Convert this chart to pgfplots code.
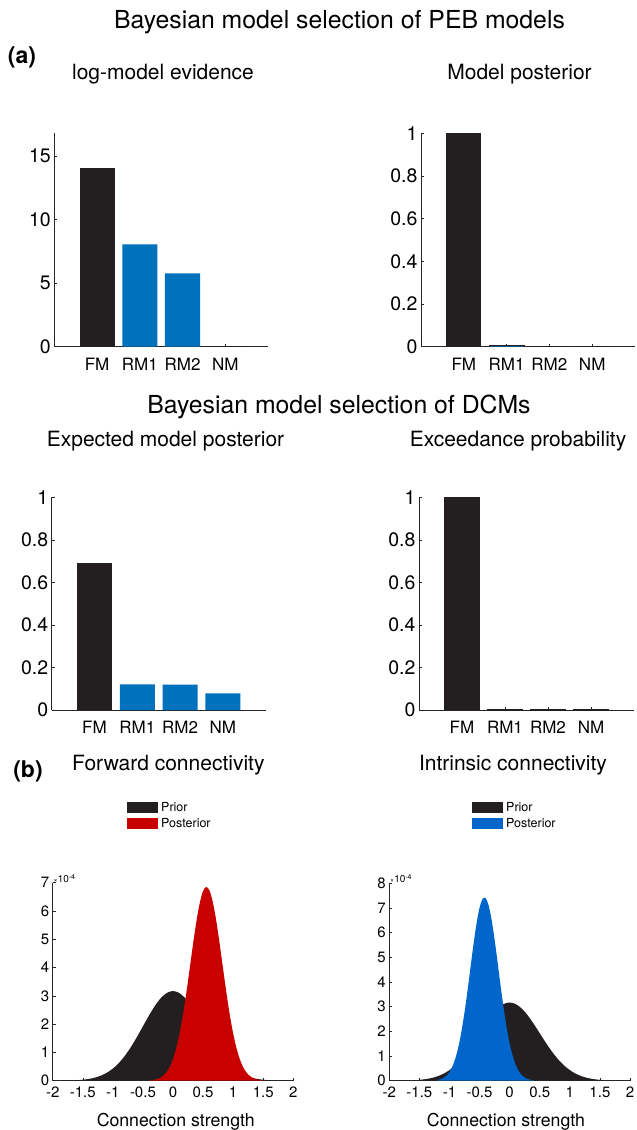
\documentclass[border=0pt]{standalone}
\usepackage{fontspec}
\setmainfont{TeX Gyre Heros}
\usepackage{pgfplots}
\pgfplotsset{compat=1.18}

\definecolor{kdark}{HTML}{231F20}
\definecolor{mblue}{HTML}{0072BD}
\definecolor{pred}{HTML}{C80000}
\definecolor{pblue}{HTML}{0066CC}

\pgfplotsset{
  baseax/.style={scale only axis, anchor=south west,
    axis x line*=bottom, axis y line*=left, tick align=inside,
    axis line style={black!85, line width=0.5pt},
    major tick style={black!85, line width=0.5pt}, major tick length=3pt,
    title style={anchor=base, font=\fontsize{21}{25}\selectfont, inner sep=0pt}},
  barax/.style={baseax, xmin=0, xmax=5, ymin=0,
    xtick={1,2,3,4}, xticklabels={FM,RM1,RM2,NM},
    yticklabel style={font=\fontsize{19.5}{22}\selectfont},
    xticklabel style={font=\fontsize{17}{20}\selectfont, yshift=-7.5pt}},
  denax/.style={baseax, xmin=-2, xmax=2, ymin=0,
    xtick={-2,-1.5,-1,-0.5,0,0.5,1,1.5,2},
    xticklabels={-2,-1.5,-1,-0.5,0,0.5,1,1.5,2},
    tick label style={font=\fontsize{15}{17}\selectfont},
    xticklabel style={yshift=-2.5pt},
    xlabel={Connection strength},
    xlabel style={anchor=base, font=\fontsize{17.7}{20}\selectfont, inner sep=0pt},
    legend cell align=left,
    legend image code/.code={\fill[##1] (0pt,-5.5pt) rectangle (31pt,5.5pt);}},
  legst/.style={legend style={at={(axis description cs:#1)}, anchor=north west,
    draw=none, fill=none, inner sep=0pt, row sep=5pt,
    font=\fontsize{12.5}{14}\selectfont, nodes={inner sep=0pt, anchor=west},
    /tikz/every odd column/.append style={column sep=3.3pt}}},
  barK/.style={ybar, bar width=0.82, bar shift=0pt, fill=kdark, draw=none},
  barB/.style={ybar, bar width=0.82, bar shift=0pt, fill=mblue, draw=none},
  barT/.style={ybar, bar width=0.82, bar shift=0pt, fill=mblue, draw=kdark, line width=0.4pt}
}

\pgfplotstableread{
x y
-2.0 0.001
-1.9 0.002
-1.8 0.005
-1.7 0.010
-1.6 0.019
-1.5 0.035
-1.4 0.063
-1.3 0.108
-1.2 0.178
-1.1 0.282
-1.0 0.429
-0.9 0.627
-0.8 0.881
-0.7 1.190
-0.6 1.543
-0.5 1.923
-0.4 2.302
-0.3 2.648
-0.2 2.926
-0.1 3.107
0.0 3.170
0.1 3.107
0.2 2.926
0.3 2.648
0.4 2.302
0.5 1.923
0.6 1.543
0.7 1.190
0.8 0.881
0.9 0.627
1.0 0.429
1.1 0.282
1.2 0.178
1.3 0.108
1.4 0.063
1.5 0.035
1.6 0.019
1.7 0.010
1.8 0.005
1.9 0.002
2.0 0.001
}\prior

\pgfplotstableread{
x y
-0.40 0.010
-0.35 0.020
-0.30 0.038
-0.25 0.068
-0.20 0.119
-0.15 0.199
-0.10 0.323
-0.05 0.506
0.00 0.765
0.05 1.115
0.10 1.570
0.15 2.132
0.20 2.793
0.25 3.533
0.30 4.312
0.35 5.079
0.40 5.773
0.45 6.333
0.50 6.704
0.55 6.849
0.60 6.752
0.65 6.424
0.70 5.898
0.75 5.226
0.80 4.468
0.85 3.687
0.90 2.936
0.95 2.256
1.00 1.673
1.05 1.198
1.10 0.827
1.15 0.551
1.20 0.355
1.25 0.220
1.30 0.132
1.35 0.076
1.40 0.042
1.45 0.023
1.50 0.012
}\postfwd

\pgfplotstableread{
x y
-1.20 0.030
-1.15 0.060
-1.10 0.113
-1.05 0.204
-1.00 0.353
-0.95 0.584
-0.90 0.923
-0.85 1.393
-0.80 2.010
-0.75 2.772
-0.70 3.653
-0.65 4.602
-0.60 5.541
-0.55 6.376
-0.50 7.012
-0.45 7.370
-0.40 7.403
-0.35 7.108
-0.30 6.522
-0.25 5.719
-0.20 4.794
-0.15 3.841
-0.10 2.940
-0.05 2.151
0.00 1.505
0.05 1.005
0.10 0.643
0.15 0.392
0.20 0.229
0.25 0.128
0.30 0.068
0.35 0.035
0.40 0.017
}\postint

\begin{document}
\begin{tikzpicture}
\useasboundingbox (0,0) rectangle (637pt,-1130pt);

\node[anchor=base, inner sep=0pt, font=\fontsize{24.8}{28}\selectfont] at (339.5pt,-28pt) {Bayesian model selection of PEB models};
\node[anchor=base, inner sep=0pt, font=\bfseries\fontsize{23}{27}\selectfont] at (22pt,-63pt) {(a)};
\node[anchor=base, inner sep=0pt, font=\fontsize{24.8}{28}\selectfont] at (339pt,-413pt) {Bayesian model selection of DCMs};
\node[anchor=base, inner sep=0pt, font=\bfseries\fontsize{23}{27}\selectfont] at (28pt,-777pt) {(b)};

% Panel 1
\begin{axis}[barax, at={(54.3pt,-346.7pt)}, width=213.7pt, height=213.4pt,
  ymax=16.8, ytick={0,5,10,15}, yticklabels={0,5,10,15},
  title={log-model evidence}, title style={at={(axis description cs:0.5087,1.2263)}}]
\addplot[barK] coordinates {(1,14.05)};
\addplot[barB] coordinates {(2,8.05) (3,5.78)};
\addplot[barT] coordinates {(4,0.06)};
\end{axis}

% Panel 2
\begin{axis}[barax, at={(421pt,-346.7pt)}, width=214pt, height=213.4pt,
  ymax=1, ytick={0,0.2,0.4,0.6,0.8,1}, yticklabels={0,0.2,0.4,0.6,0.8,1},
  title={Model posterior}, title style={at={(axis description cs:0.4603,1.2263)}}]
\addplot[barK] coordinates {(1,1.0)};
\addplot[barT] coordinates {(2,0.005) (3,0.002) (4,0.002)};
\end{axis}

% Panel 3
\begin{axis}[barax, at={(51.7pt,-710pt)}, width=214pt, height=212.7pt,
  ymax=1, ytick={0,0.2,0.4,0.6,0.8,1}, yticklabels={0,0.2,0.4,0.6,0.8,1},
  title={Expected model posterior}, title style={at={(axis description cs:0.5318,1.2130)}}]
\addplot[barK] coordinates {(1,0.690)};
\addplot[barB] coordinates {(2,0.121) (3,0.119) (4,0.0785)};
\end{axis}

% Panel 4
\begin{axis}[barax, at={(419pt,-710pt)}, width=215pt, height=212.7pt,
  ymax=1, ytick={0,0.2,0.4,0.6,0.8,1}, yticklabels={0,0.2,0.4,0.6,0.8,1},
  title={Exceedance probability}, title style={at={(axis description cs:0.4605,1.2130)}}]
\addplot[barK] coordinates {(1,1.0)};
\addplot[barT] coordinates {(2,0.002) (3,0.002) (4,0.002)};
\end{axis}

% Panel 5
\begin{axis}[denax, at={(52.7pt,-1080.7pt)}, width=240.6pt, height=198pt,
  ymax=7, ytick={0,1,2,3,4,5,6,7}, yticklabels={0,1,2,3,4,5,6,7},
  xlabel style={at={(axis description cs:0.5116,-0.2298)}},
  title={Forward connectivity}, title style={at={(axis description cs:0.4805,1.5389)}},
  legst={0.3076,1.4076}]
\addplot[fill=kdark, draw=none, smooth] table {\prior} \closedcycle;
\addlegendentry{Prior}
\addplot[fill=pred, draw=none, smooth] table {\postfwd} \closedcycle;
\addlegendentry{Posterior}
\end{axis}
\node[anchor=south west, inner sep=0pt, font=\fontsize{10}{11}\selectfont] at (53.5pt,-882.5pt) {{\fontsize{7}{8}\selectfont ×}10\raisebox{0.55ex}{\fontsize{7}{8}\selectfont -4}};

% Panel 6
\begin{axis}[denax, at={(389.3pt,-1080.7pt)}, width=240.7pt, height=197.4pt,
  ymax=8, ytick={0,1,2,3,4,5,6,7,8}, yticklabels={0,1,2,3,4,5,6,7,8},
  xlabel style={at={(axis description cs:0.4848,-0.2305)}},
  title={Intrinsic connectivity}, title style={at={(axis description cs:0.5139,1.5435)}},
  legst={0.3423,1.4119}]
\addplot[fill=kdark, draw=none, smooth] table {\prior} \closedcycle;
\addlegendentry{Prior}
\addplot[fill=pblue, draw=none, smooth] table {\postint} \closedcycle;
\addlegendentry{Posterior}
\end{axis}
\node[anchor=south west, inner sep=0pt, font=\fontsize{10}{11}\selectfont] at (390pt,-883pt) {{\fontsize{7}{8}\selectfont ×}10\raisebox{0.55ex}{\fontsize{7}{8}\selectfont -4}};

\end{tikzpicture}
\end{document}
